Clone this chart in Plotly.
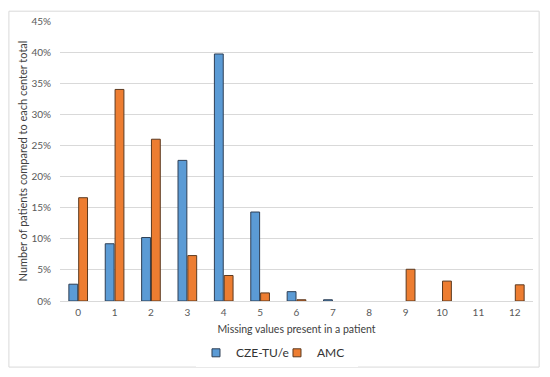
import plotly.graph_objects as go

categories = ["0", "1", "2", "3", "4", "5", "6", "7", "8", "9", "10", "11", "12"]
# None = no bar drawn at that category
cze_tue = [0.027, 0.092, 0.102, 0.226, 0.397, 0.143, 0.015, 0.002, None, None, None, None, None]
amc = [0.166, 0.340, 0.260, 0.073, 0.041, 0.013, 0.002, None, None, 0.051, 0.032, None, 0.026]
y_ticks = [0, 0.05, 0.10, 0.15, 0.20, 0.25, 0.30, 0.35, 0.40, 0.45]

FONT = "Lato, 'Noto Sans', sans-serif"
BLUE, BLUE_LINE = "#5B9BD5", "#2E3F55"
ORANGE, ORANGE_LINE = "#ED7D31", "#5C3A20"

fig = go.Figure()
fig.add_trace(go.Bar(x=categories, y=cze_tue, name="CZE-TU/e", showlegend=False,
                     marker=dict(color=BLUE, line=dict(color=BLUE_LINE, width=1))))
fig.add_trace(go.Bar(x=categories, y=amc, name="AMC", showlegend=False,
                     marker=dict(color=ORANGE, line=dict(color=ORANGE_LINE, width=1))))
# legend entries with square keys
for name, col, lc in [("CZE-TU/e", BLUE, BLUE_LINE), ("AMC", ORANGE, ORANGE_LINE)]:
    fig.add_trace(go.Scatter(x=[None], y=[None], mode="markers", name=name,
                             marker=dict(symbol="square", size=8, color=col,
                                         line=dict(color=lc, width=1))))

# page body has an 8px margin, so the figure is 8px smaller than the window
fig.update_layout(
    width=542, height=369,
    margin=dict(l=52, r=17, t=13, b=76, autoexpand=False),
    paper_bgcolor="white", plot_bgcolor="white",
    barmode="group", bargap=0.46, bargroupgap=0.1,
    font=dict(family=FONT, size=10, color="#595959"),
    legend=dict(orientation="h", x=0.2875, xanchor="left", y=-0.185, yanchor="middle",
                font=dict(size=12, color="#333333"), itemwidth=30, entrywidth=36,
                traceorder="normal"),
    showlegend=True,
)
fig.update_xaxes(
    type="category", categoryorder="array", categoryarray=categories,
    showgrid=False, showline=True, linecolor="#D9D9D9", linewidth=1,
    ticks="outside", ticklen=2, tickcolor="rgba(0,0,0,0)", automargin=False,
    tickfont=dict(size=10, color="#595959"),
    title=dict(text="Missing values present in a patient", font=dict(size=10.5, color="#404040"), standoff=8),
)
fig.update_yaxes(
    range=[0, 0.45], tickvals=y_ticks, tickformat=".0%",
    showgrid=True, gridcolor="#D9D9D9", gridwidth=1, zeroline=False,
    ticks="outside", ticklen=6, tickcolor="rgba(0,0,0,0)", automargin=False,
    tickfont=dict(size=10, color="#595959"),
    title=dict(text="Number of patients compared to each center total", font=dict(size=11, color="#404040"), standoff=1),
)
fig.add_shape(type="rect", xref="paper", yref="paper",
              x0=-0.108, x1=1.013, y0=-0.236, y1=1.035,
              line=dict(color="#D9D9D9", width=1), fillcolor="rgba(0,0,0,0)", layer="below")

fig.write_html("out.html")
